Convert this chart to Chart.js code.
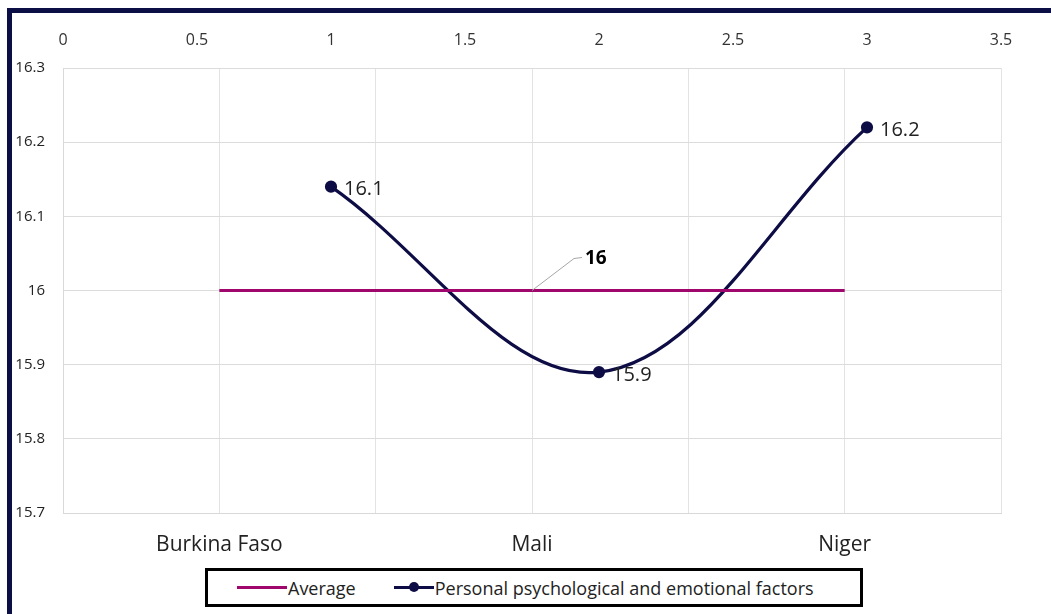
<!DOCTYPE html>
<html>
<head>
<meta charset="utf-8">
<script src="https://cdn.jsdelivr.net/npm/chart.js@4"></script>
<style>
    body { margin: 0; width: 1051px; height: 614px; overflow: hidden; background: #fff; font-family: "Open Sans", sans-serif; }
    #frame { position: absolute; left: 7px; top: 8px; width: 1100px; height: 700px; border: 5px solid #0c0f45; }
    #wrap { position: absolute; left: 0; top: 0; width: 1051px; height: 614px; }
    #legend { position: absolute; left: 205px; top: 568px; width: 652px; height: 33px; border: 3px solid #000; background: #fff;
        display: flex; align-items: center; font-size: 18px; color: #222; white-space: nowrap; }
    .item { display: flex; align-items: center; }
    .swatch { position: relative; width: 50px; height: 3px; margin-right: 1px; }
    .dot { position: absolute; top: -4px; width: 10px; height: 10px; border-radius: 50%; background: #0d0c45; }
</style>
</head>
<body>
<div id="frame"></div>
<div id="wrap"><canvas id="chart"></canvas></div>
<div id="legend">
    <div class="item" style="margin-left:29px"><div class="swatch" style="background:#a0076d"></div>Average</div>
    <div class="item" style="margin-left:38px"><div class="swatch" style="background:#0d0c45;width:40px"><div class="dot" style="left:15px"></div></div>Personal psychological and emotional factors</div>
</div>
<script>
// chart data
let categories = ['Burkina Faso', 'Mali', 'Niger'];
let averageValues = [16, 16, 16];
let seriesX = [1, 2, 3];
let seriesValues = [16.14, 15.89, 16.22];
let yMin = 15.7, yMax = 16.3, yStep = 0.1;
let topMin = 0, topMax = 3.5, topStep = 0.5;

const fmt = v => String(Number(v.toFixed(2)));

// value labels next to the series points
const pointLabels = {
    id: 'pointLabels',
    afterDatasetsDraw(chart) {
        let ctx = chart.ctx;
        ctx.save();
        ctx.font = '20px "Open Sans"';
        ctx.fillStyle = '#222';
        ctx.textBaseline = 'middle';
        chart.getDatasetMeta(1).data.forEach((p, i) => {
            ctx.fillText(seriesValues[i].toFixed(1), p.x + 13, p.y + 3);
        });
        // callout for the average
        let x = chart.scales.x.getPixelForValue(1.5);
        let y = chart.scales.y.getPixelForValue(averageValues[1]);
        ctx.strokeStyle = '#a6a6a6';
        ctx.lineWidth = 1;
        ctx.beginPath();
        ctx.moveTo(x, y);
        ctx.lineTo(x + 42, y - 32);
        ctx.lineTo(x + 50, y - 33);
        ctx.stroke();
        ctx.font = 'bold 19px "Open Sans"';
        ctx.fillStyle = '#000';
        ctx.fillText(fmt(averageValues[1]), x + 53, y - 32);
        ctx.restore();
    }
};

const ctx = document.getElementById('chart');
new Chart(ctx, {
    type: 'line',
    data: {
        datasets: [{
            label: 'Average',
            data: averageValues.map((v, i) => ({ x: i + 0.5, y: v })),
            xAxisID: 'x',
            borderColor: '#a0076d',
            backgroundColor: '#a0076d',
            borderWidth: 3,
            pointRadius: 0,
            tension: 0
        }, {
            label: 'Personal psychological and emotional factors',
            data: seriesValues.map((v, i) => ({ x: seriesX[i], y: v })),
            xAxisID: 'x2',
            borderColor: '#0d0c45',
            backgroundColor: '#0d0c45',
            borderWidth: 3.2,
            pointRadius: 4.5,
            pointHoverRadius: 4.5,
            tension: 0.36
        }]
    },
    options: {
        responsive: true,
        maintainAspectRatio: false,
        animation: false,
        layout: { padding: { left: 0, right: 50, top: 0, bottom: 0 } },
        plugins: { legend: { display: false }, tooltip: { enabled: false } },
        scales: {
            x: {
                type: 'linear',
                position: 'bottom',
                min: 0,
                max: categories.length,
                afterFit: s => { s.height = 101; },
                grid: { color: '#e3e3e3', drawTicks: false },
                border: { color: '#d9d9d9' },
                ticks: {
                    stepSize: 0.5,
                    autoSkip: false,
                    maxRotation: 0,
                    padding: 19,
                    color: '#222',
                    font: { family: 'Open Sans', size: 21 },
                    callback: v => (v % 1 === 0.5) ? categories[Math.floor(v)] : ''
                }
            },
            x2: {
                type: 'linear',
                position: 'top',
                min: topMin,
                max: topMax,
                afterFit: s => { s.height = 68; },
                grid: { display: false, drawTicks: false },
                border: { display: false },
                ticks: { stepSize: topStep, padding: 18, color: '#333', font: { family: 'Open Sans', size: 16 }, callback: fmt }
            },
            y: {
                min: yMin,
                max: yMax,
                afterFit: s => { s.width = 63; },
                grid: { color: '#dcdcdc', drawTicks: false },
                border: { color: '#d9d9d9' },
                ticks: { stepSize: yStep, padding: 18, color: '#222', font: { family: 'Open Sans', size: 15 }, callback: fmt }
            }
        }
    },
    plugins: [pointLabels]
});
</script>
</body>
</html>
